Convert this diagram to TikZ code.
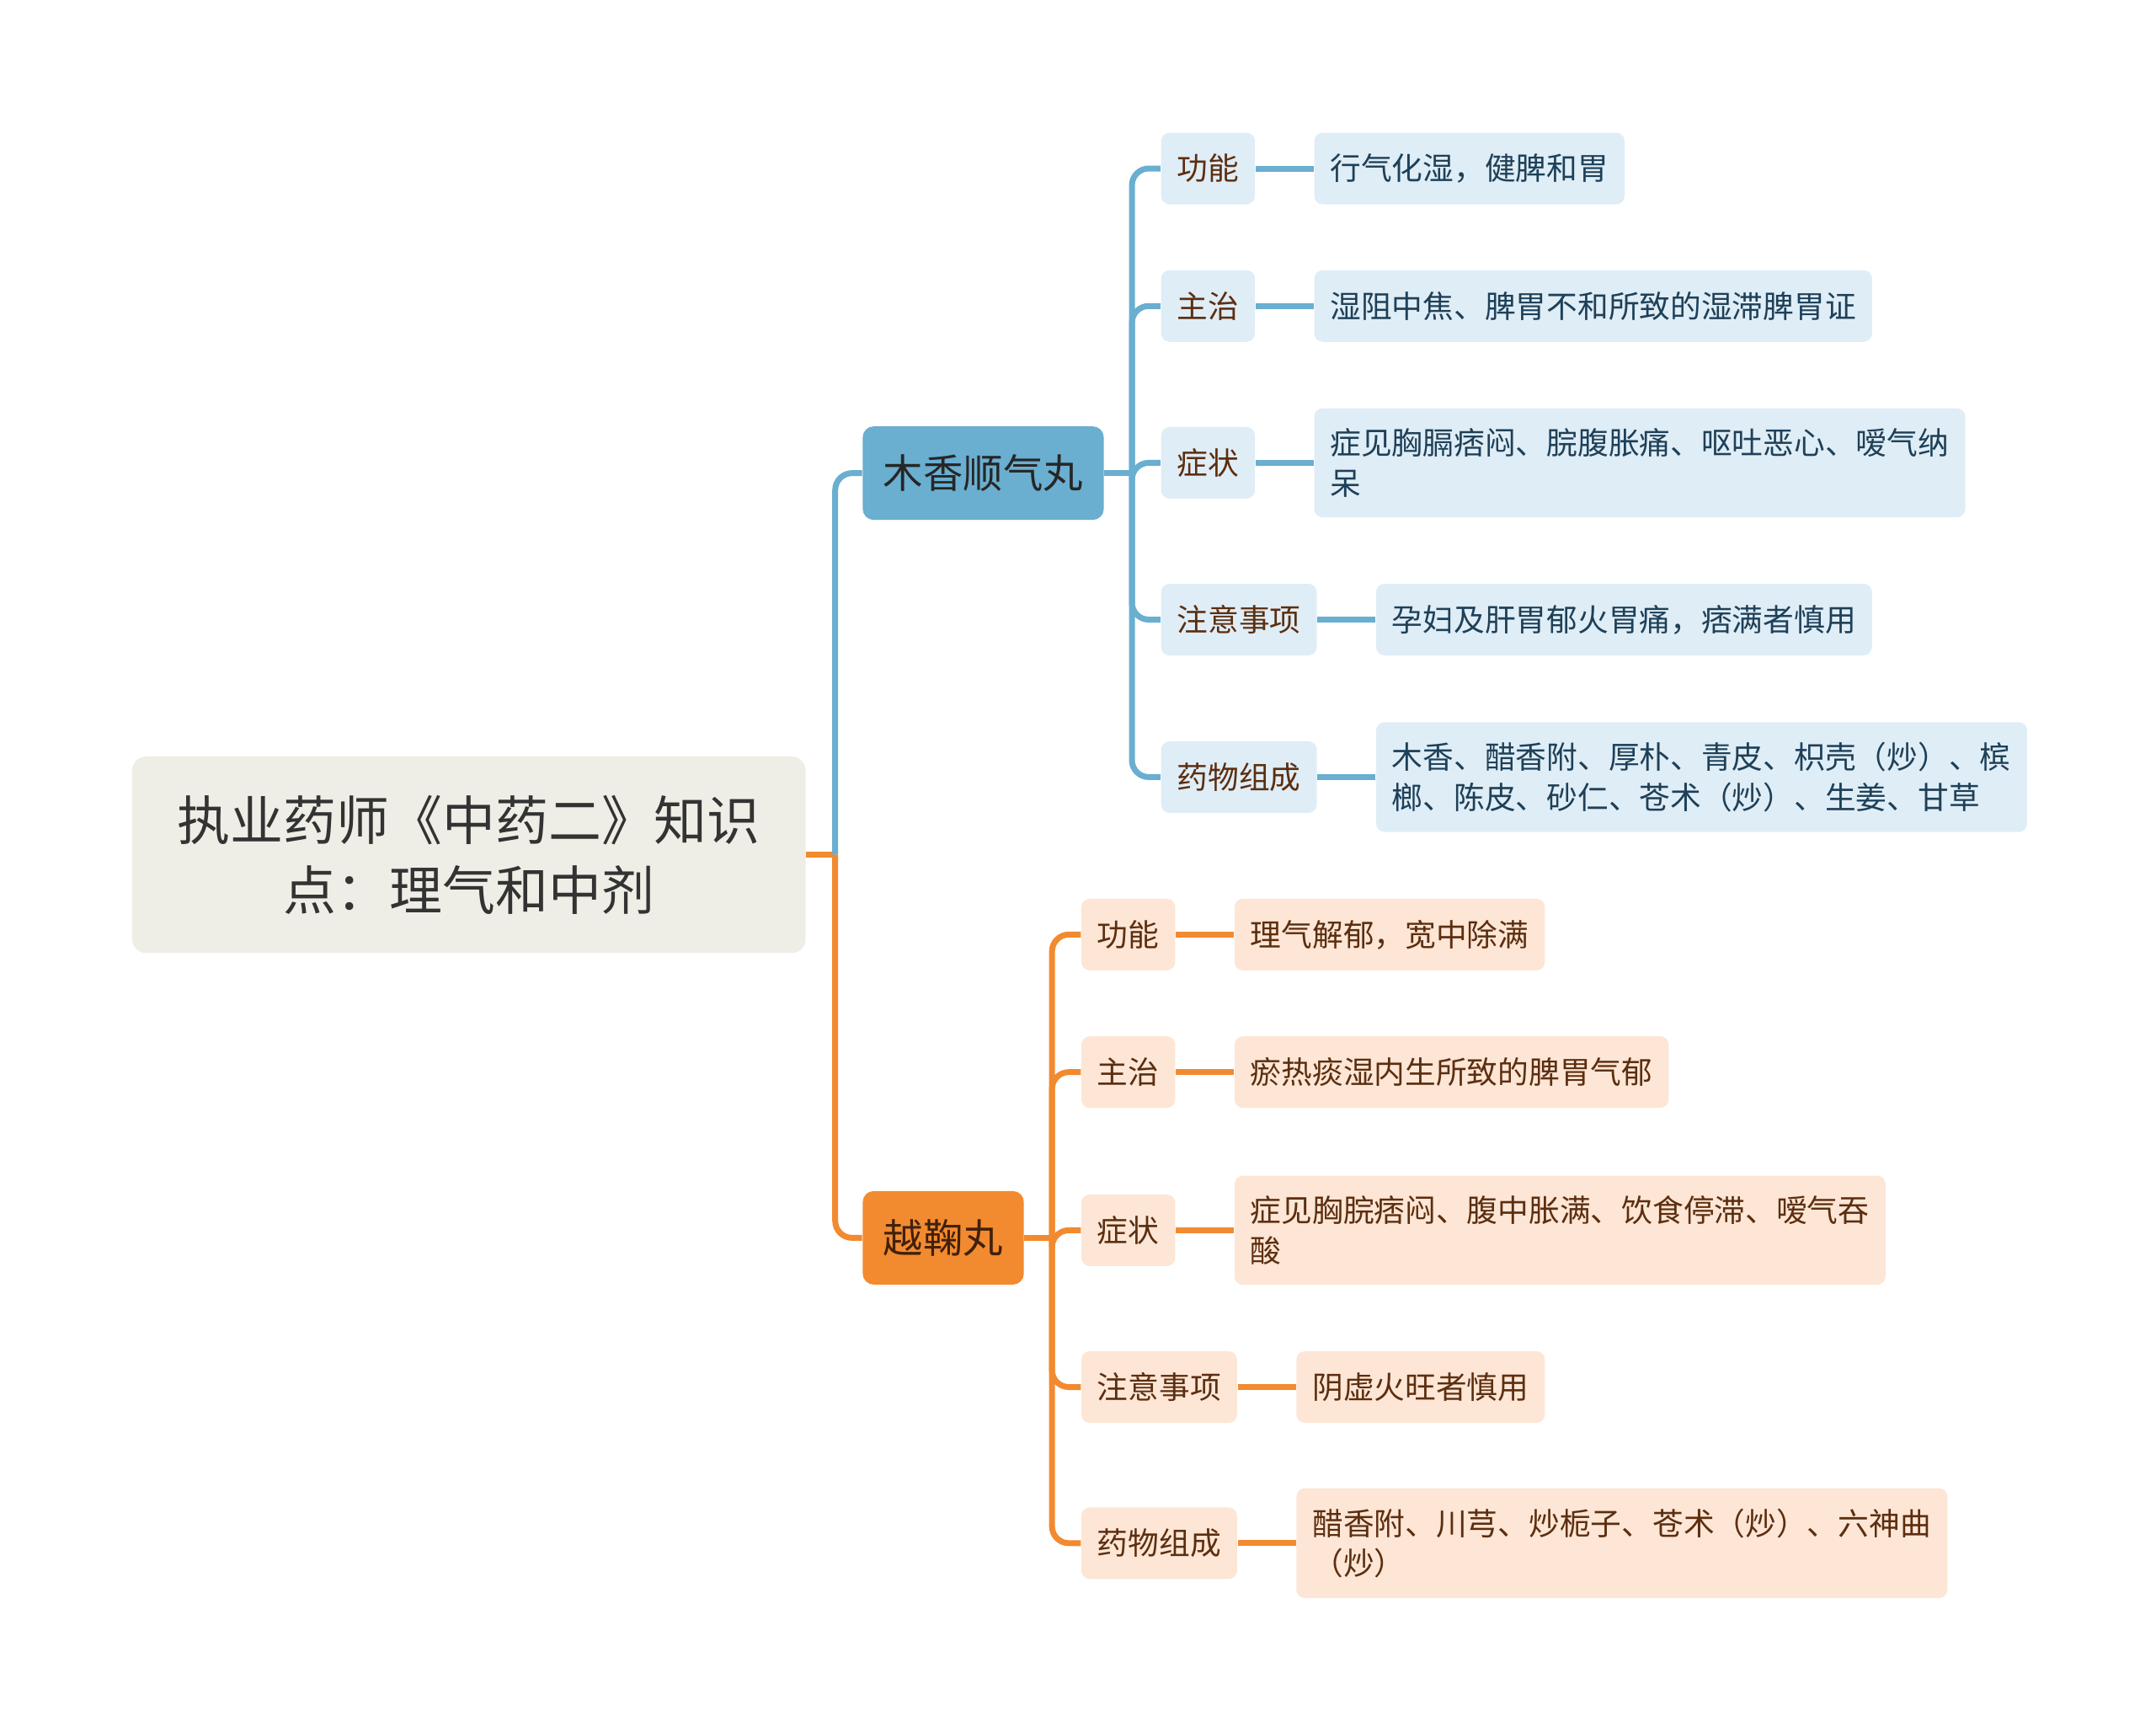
\documentclass[tikz,border=0pt]{standalone}
\usepackage{fontspec}
\setmainfont{Noto Sans CJK SC}
\usetikzlibrary{positioning}

\definecolor{rootfill}{RGB}{239,238,230}
\definecolor{roottext}{RGB}{51,51,51}
\definecolor{mapblue}{RGB}{106,174,208}
\definecolor{maporange}{RGB}{242,138,48}
\definecolor{bluepale}{RGB}{223,237,246}
\definecolor{orangepale}{RGB}{253,230,213}
\definecolor{labbrown}{RGB}{92,46,16}
\definecolor{leafblue}{RGB}{30,64,88}

\tikzset{
  root/.style={fill=rootfill, text=roottext, rounded corners=0.17cm, align=center,
    minimum width=8cm, minimum height=2.335cm, font=\fontsize{17.9pt}{23.7pt}\selectfont},
  branch/.style={rounded corners=0.13cm, minimum height=1.11cm, inner xsep=0.245cm,
    anchor=west, font=\fontsize{13.5pt}{16pt}\selectfont},
  box/.style={rounded corners=0.1cm, inner xsep=0.19cm, inner ysep=0.24cm, align=left,
    minimum height=0.85cm, font=\fontsize{10.45pt}{13.5pt}\selectfont},
  oneline/.style={},
  twoline/.style={text width=7.35cm},
  bline/.style={draw=mapblue, line width=0.07cm, rounded corners=0.2cm},
  oline/.style={draw=maporange, line width=0.07cm, rounded corners=0.2cm}
}

\begin{document}
\begin{tikzpicture}[x=0.016327cm, y=-0.016327cm]
  \useasboundingbox (0,0) rectangle (1568,1259);

  \node[root] (root) at (341,621.5) {执业药师《中药二》知识\\点：理气和中剂};
  \node[branch, fill=mapblue, text=black!85] (b1) at (627,344) {木香顺气丸};
  \node[branch, fill=maporange, text=labbrown!70!black] (b2) at (627,900) {越鞠丸};

  \coordinate[right=0.343cm of root.east] (rj);
  \draw[oline] (root.east) -- (rj);
  \draw[bline] (rj) |- (b1.west);
  \draw[oline] (rj) |- (b2.west);

  % 木香顺气丸
  \coordinate[right=0.327cm of b1.east] (bj);
  \draw[bline] (b1.east) -- (bj);
  \foreach \y/\lab/\sty/\txt [count=\i] in {
      122.5/功能/oneline/行气化湿，健脾和胃,
      222.5/主治/oneline/湿阻中焦、脾胃不和所致的湿滞脾胃证,
      336.5/症状/twoline/{症见胸膈痞闷、脘腹胀痛、呕吐恶心、嗳气纳\\呆},
      450.5/注意事项/oneline/孕妇及肝胃郁火胃痛，痞满者慎用,
      565/药物组成/twoline/{木香、醋香附、厚朴、青皮、枳壳（炒）、槟\\榔、陈皮、砂仁、苍术（炒）、生姜、甘草}}
  {
    \node[box, fill=bluepale, text=labbrown, anchor=west] (bm\i) at (844,\y) {\lab};
    \node[box, \sty, fill=bluepale, text=leafblue, right=0.69cm of bm\i] (bl\i) {\txt};
    \draw[bline] (bj) |- (bm\i.west);
    \draw[bline] (bm\i) -- (bl\i);
  }

  % 越鞠丸
  \coordinate[right=0.327cm of b2.east] (oj);
  \draw[oline] (b2.east) -- (oj);
  \foreach \y/\lab/\sty/\txt [count=\i] in {
      679.5/功能/oneline/理气解郁，宽中除满,
      779.5/主治/oneline/瘀热痰湿内生所致的脾胃气郁,
      894.5/症状/twoline/{症见胸脘痞闷、腹中胀满、饮食停滞、嗳气吞\\酸},
      1008.5/注意事项/oneline/阴虚火旺者慎用,
      1122/药物组成/twoline/{醋香附、川芎、炒栀子、苍术（炒）、六神曲\\（炒）}}
  {
    \node[box, fill=orangepale, text=labbrown, anchor=west] (om\i) at (786,\y) {\lab};
    \node[box, \sty, fill=orangepale, text=labbrown, right=0.69cm of om\i] (ol\i) {\txt};
    \draw[oline] (oj) |- (om\i.west);
    \draw[oline] (om\i) -- (ol\i);
  }
\end{tikzpicture}
\end{document}
